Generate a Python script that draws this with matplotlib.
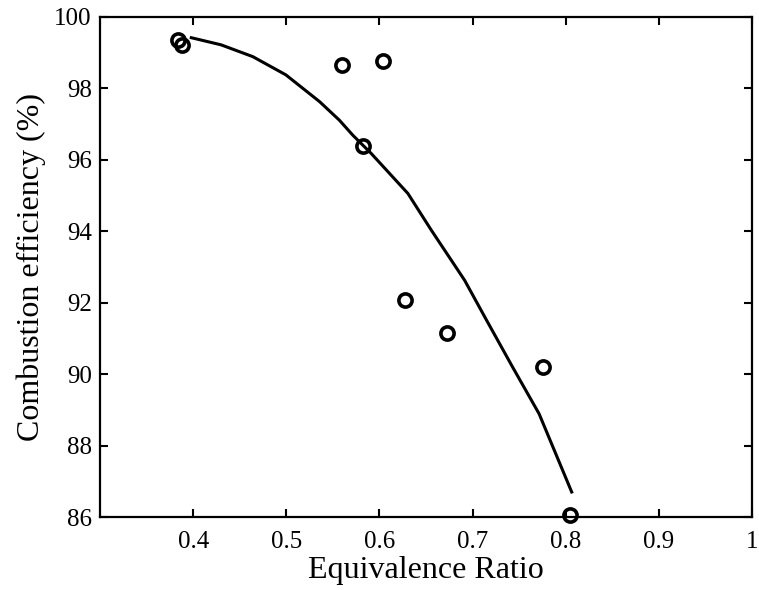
import matplotlib

matplotlib.use("Agg")
import matplotlib.pyplot as plt

# measured points
phi = [0.3835, 0.388, 0.560, 0.604, 0.582, 0.627, 0.673, 0.776, 0.805]
eff = [99.36, 99.22, 98.66, 98.77, 96.39, 92.07, 91.16, 90.20, 86.05]

# fitted trend line
fit_phi = [0.398, 0.430, 0.464, 0.4995, 0.5357, 0.557, 0.5714, 0.5911, 0.6305,
           0.6557, 0.6914, 0.715, 0.7429, 0.7714, 0.8064]
fit_eff = [99.42, 99.22, 98.89, 98.38, 97.63, 97.11, 96.69, 96.18, 95.06,
           94.03, 92.63, 91.51, 90.20, 88.89, 86.70]

plt.rcParams["font.family"] = ["Liberation Serif", "DejaVu Serif"]

fig = plt.figure(figsize=(7.59, 5.90), dpi=100)
ax = fig.add_axes([0.1318, 0.1237, 0.859, 0.8475])

ax.plot(fit_phi, fit_eff, color="black", linewidth=2.2)
ax.plot(phi, eff, linestyle="none", marker="o", markersize=9.5, markerfacecolor="none",
        markeredgecolor="black", markeredgewidth=2.6, clip_on=False)

ax.set_xlim(0.3, 1.0)
ax.set_ylim(86, 100)
ax.set_xticks([0.4, 0.5, 0.6, 0.7, 0.8, 0.9, 1.0], ["0.4", "0.5", "0.6", "0.7", "0.8", "0.9", "1"])
ax.set_yticks(range(86, 101, 2))
ax.tick_params(direction="in", top=True, right=True, length=6, width=1.5, labelsize=18)
ax.tick_params(axis="x", pad=10)
ax.tick_params(axis="y", pad=6)
for spine in ax.spines.values():
    spine.set_linewidth(1.6)

ax.set_xlabel("Equivalence Ratio", fontsize=23, labelpad=2)
ax.set_ylabel("Combustion efficiency (%)", fontsize=23, labelpad=6)

fig.savefig("out.png", dpi=100)
